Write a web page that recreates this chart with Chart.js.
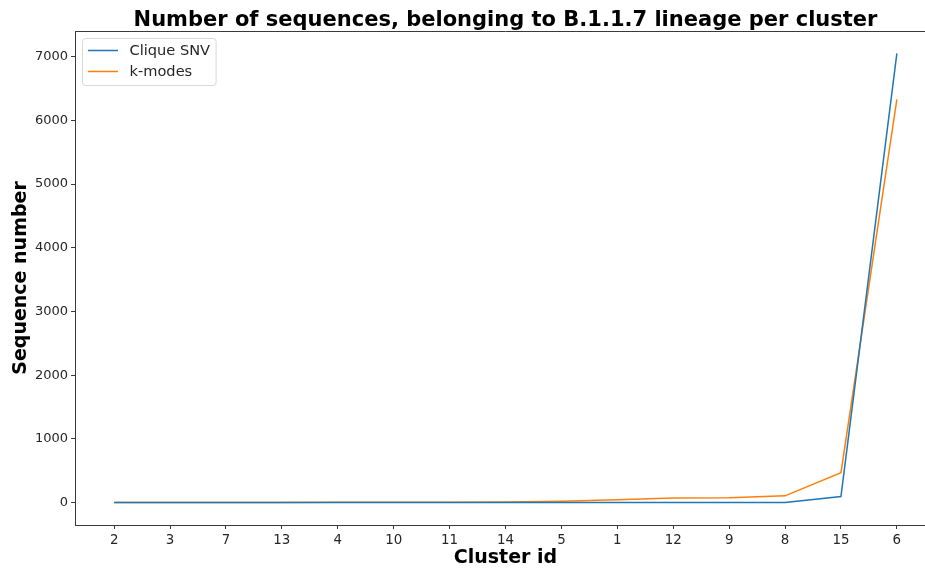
<!DOCTYPE html>
<html>
<head>
<meta charset="utf-8">
<script src="https://cdn.jsdelivr.net/npm/chart.js@4.4.1/dist/chart.umd.min.js"></script>
<style>
  html, body { margin: 0; padding: 0; background: #fff; overflow: hidden; }
  #wrap { width: 925px; height: 569px; overflow: hidden; position: relative; }
  #chart { position: absolute; left: 0; top: 0; }
</style>
</head>
<body>
<div id="wrap"><canvas id="chart" width="937" height="569"></canvas></div>
<script>
// Cluster ids along the x axis, in plotted order
const clusters = ['2', '3', '7', '13', '4', '10', '11', '14', '5', '1', '12', '9', '8', '15', '6'];
// B.1.1.7 sequences per cluster for each method
const cliqueSnv = [0, 0, 0, 0, 0, 0, 0, 0, 0, 0, 0, 0, 2, 95, 7050];
const kModes = [0, 1, 1, 2, 3, 4, 6, 10, 20, 45, 72, 75, 105, 470, 6330];
// Y tick values
const yTicks = [0, 1000, 2000, 3000, 4000, 5000, 6000, 7000];

const FONT = '"DejaVu Sans", "Liberation Sans", sans-serif';
const TEXT = '#262626';
const SPINE = '#3a3a3a';

const toPoints = arr => arr.map((v, i) => ({ x: i, y: v }));

// 5% margins around the data range on both axes
const allVals = cliqueSnv.concat(kModes);
const yLo = Math.min(...allVals), yHi = Math.max(...allVals);
const yPad = (yHi - yLo) * 0.05;
const xPad = (clusters.length - 1) * 0.05;

const decor = {
  id: 'decor',
  beforeDraw(chart) {
    const { ctx } = chart;
    ctx.save();
    ctx.fillStyle = '#fff';
    ctx.fillRect(0, 0, chart.width, chart.height);
    ctx.restore();
  },
  afterDraw(chart) {
    const { ctx, chartArea: a } = chart;
    ctx.save();
    // top spine
    ctx.strokeStyle = SPINE;
    ctx.lineWidth = 1;
    ctx.beginPath();
    ctx.moveTo(a.left, a.top + 0.5);
    ctx.lineTo(a.right, a.top + 0.5);
    ctx.stroke();

    // title, centred over the axes
    ctx.fillStyle = '#000';
    ctx.font = 'bold 21px ' + FONT;
    ctx.textAlign = 'center';
    ctx.textBaseline = 'alphabetic';
    ctx.fillText('Number of sequences, belonging to B.1.1.7 lineage per cluster', (a.left + a.right) / 2, 25.5);

    // legend box in the upper-left corner
    const ds = chart.data.datasets;
    ctx.font = '14.6px ' + FONT;
    const textW = Math.max(...ds.map(d => ctx.measureText(d.label).width));
    const bx = a.left + 7.5, by = a.top + 7.5;
    const bw = 6 + 30 + 11 + textW + 6, bh = 47;
    const r = 3;
    ctx.beginPath();
    ctx.moveTo(bx + r, by);
    ctx.arcTo(bx + bw, by, bx + bw, by + bh, r);
    ctx.arcTo(bx + bw, by + bh, bx, by + bh, r);
    ctx.arcTo(bx, by + bh, bx, by, r);
    ctx.arcTo(bx, by, bx + bw, by, r);
    ctx.closePath();
    ctx.fillStyle = 'rgba(255,255,255,0.8)';
    ctx.fill();
    ctx.strokeStyle = '#d9d9d9';
    ctx.lineWidth = 1;
    ctx.stroke();
    ds.forEach((d, i) => {
      const cy = by + 12 + i * 21;
      ctx.strokeStyle = d.borderColor;
      ctx.lineWidth = 1.5;
      ctx.beginPath();
      ctx.moveTo(bx + 5.5, cy);
      ctx.lineTo(bx + 35.5, cy);
      ctx.stroke();
      ctx.fillStyle = TEXT;
      ctx.textAlign = 'left';
      ctx.textBaseline = 'middle';
      ctx.fillText(d.label, bx + 47, cy + 0.5);
    });
    ctx.restore();
  }
};

new Chart(document.getElementById('chart'), {
  type: 'line',
  data: {
    datasets: [
      { label: 'Clique SNV', data: toPoints(cliqueSnv), borderColor: '#1f77b4', backgroundColor: '#1f77b4', borderWidth: 1.5, pointRadius: 0, tension: 0, fill: false },
      { label: 'k-modes', data: toPoints(kModes), borderColor: '#ff7f0e', backgroundColor: '#ff7f0e', borderWidth: 1.5, pointRadius: 0, tension: 0, fill: false }
    ]
  },
  options: {
    responsive: false,
    animation: false,
    layout: { padding: { top: 31, right: 1, left: 0, bottom: 0 } },
    plugins: { legend: { display: false }, title: { display: false }, tooltip: { enabled: false } },
    scales: {
      x: {
        type: 'linear',
        min: -xPad,
        max: clusters.length - 1 + xPad,
        afterBuildTicks: s => { s.ticks = clusters.map((_, i) => ({ value: i })); },
        afterFit: s => { s.height = 44; },
        ticks: {
          autoSkip: false, maxRotation: 0, padding: 3,
          color: TEXT, font: { family: FONT, size: 13.4 },
          callback: v => clusters[v]
        },
        grid: { drawOnChartArea: false, drawTicks: true, tickLength: 4, color: SPINE },
        border: { display: true, color: SPINE, width: 1 },
        title: { display: true, text: 'Cluster id', color: '#000', font: { family: FONT, size: 19, weight: 'bold' }, padding: { top: 0, bottom: 0 } }
      },
      y: {
        type: 'linear',
        min: yLo - yPad,
        max: yHi + yPad,
        afterBuildTicks: s => { s.ticks = yTicks.map(v => ({ value: v })); },
        afterFit: s => { s.width = 75; },
        ticks: {
          padding: 3, color: TEXT, font: { family: FONT, size: 13 },
          callback: v => String(v)
        },
        grid: { drawOnChartArea: false, drawTicks: true, tickLength: 4, color: SPINE },
        border: { display: true, color: SPINE, width: 1 },
        title: { display: true, text: 'Sequence number', color: '#000', font: { family: FONT, size: 19, weight: 'bold' }, padding: { top: 10, bottom: 0 } }
      }
    }
  },
  plugins: [decor]
});
</script>
</body>
</html>
